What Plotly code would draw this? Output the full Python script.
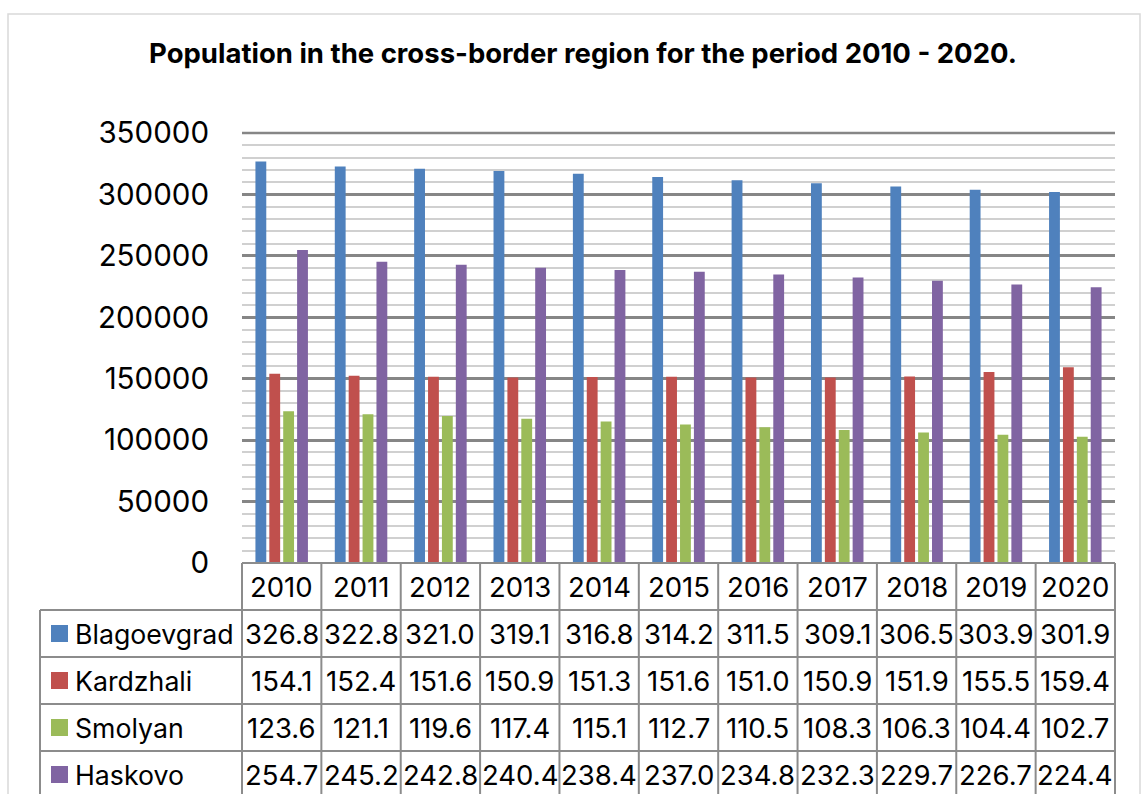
import plotly.graph_objects as go

W, H = 1147, 794

years = ["2010", "2011", "2012", "2013", "2014", "2015", "2016", "2017", "2018", "2019", "2020"]
series_names = ["Blagoevgrad", "Kardzhali", "Smolyan", "Haskovo"]
blagoevgrad = [326.8, 322.8, 321.0, 319.1, 316.8, 314.2, 311.5, 309.1, 306.5, 303.9, 301.9]
kardzhali = [154.1, 152.4, 151.6, 150.9, 151.3, 151.6, 151.0, 150.9, 151.9, 155.5, 159.4]
smolyan = [123.6, 121.1, 119.6, 117.4, 115.1, 112.7, 110.5, 108.3, 106.3, 104.4, 102.7]
haskovo = [254.7, 245.2, 242.8, 240.4, 238.4, 237.0, 234.8, 232.3, 229.7, 226.7, 224.4]
colors = ["#4F81BD", "#C0504D", "#9BBB59", "#8064A2"]
title = "Population in the cross-border region for the period 2010 - 2020."
y_max = 350000

all_series = [blagoevgrad, kardzhali, smolyan, haskovo]

FONT = "Inter"
FS_TICK = 29.5
FS_NUM = 27.5
FS_LAB = 26.7

def px(x):
    return x / W

def py(y):
    return 1 - y / H

# plot area in pixels
PL, PR, PT, PB = 242, 1115, 133, 563
TABLE_LEFT = 40
ROW_H = 47

fig = go.Figure()
for name, vals, c in zip(series_names, all_series, colors):
    fig.add_trace(go.Bar(
        x=years, y=[v * 1000 for v in vals], name=name,
        marker=dict(color=c, line=dict(width=0)),
        showlegend=False,
    ))

shapes = []
annotations = []
grid_col = "#8C8C8C"

# outer chart border
shapes.append(dict(type="rect", xref="paper", yref="paper",
                   x0=px(8), x1=px(1140), y0=py(805), y1=py(14),
                   line=dict(color="#D9D9D9", width=1.5)))

# top major gridline (at the top edge of the plot area, not clipped)
shapes.append(dict(type="line", xref="paper", yref="paper",
                   x0=px(PL), x1=px(PR), y0=py(PT), y1=py(PT),
                   line=dict(color="#868686", width=2.5)))

# table horizontal lines
n_rows = len(series_names)
shapes.append(dict(type="line", xref="paper", yref="paper",
                   x0=px(PL), x1=px(PR), y0=py(PB), y1=py(PB),
                   line=dict(color=grid_col, width=2)))
for r in range(n_rows):
    y = PB + ROW_H * (r + 1)
    shapes.append(dict(type="line", xref="paper", yref="paper",
                       x0=px(TABLE_LEFT), x1=px(PR), y0=py(y), y1=py(y),
                       line=dict(color=grid_col, width=2)))
# vertical lines
ncol = len(years)
colw = (PR - PL) / ncol
for j in range(ncol + 1):
    x = PL + j * colw
    shapes.append(dict(type="line", xref="paper", yref="paper",
                       x0=px(x), x1=px(x), y0=py(PB), y1=py(H + 5),
                       line=dict(color=grid_col, width=2)))
shapes.append(dict(type="line", xref="paper", yref="paper",
                   x0=px(TABLE_LEFT), x1=px(TABLE_LEFT), y0=py(PB + ROW_H), y1=py(H + 5),
                   line=dict(color=grid_col, width=2)))

# header row
for j, yr in enumerate(years):
    annotations.append(dict(x=j, xref="x", y=py(PB + ROW_H / 2), yref="paper",
                            text=yr, showarrow=False, xanchor="center", yanchor="middle",
                            font=dict(family=FONT, size=FS_NUM, color="#000000")))
# body rows
for r, (name, vals, c) in enumerate(zip(series_names, all_series, colors)):
    yc = PB + ROW_H * (r + 1.5)
    shapes.append(dict(type="rect", xref="paper", yref="paper",
                       x0=px(51), x1=px(68), y0=py(yc + 8.5), y1=py(yc - 8.5),
                       fillcolor=c, line=dict(width=0)))
    annotations.append(dict(x=px(73), xref="paper", y=py(yc), yref="paper",
                            text=name, showarrow=False, xanchor="left", yanchor="middle",
                            font=dict(family=FONT, size=FS_LAB, color="#000000")))
    for j, v in enumerate(vals):
        annotations.append(dict(x=j, xref="x", y=py(yc), yref="paper",
                                text=f"{v:.1f}", showarrow=False,
                                xanchor="center", yanchor="middle",
                                font=dict(family=FONT, size=FS_NUM, color="#000000")))

fig.update_layout(
    width=W, height=H,
    margin=dict(l=0, r=0, t=0, b=0, autoexpand=False),
    paper_bgcolor="white", plot_bgcolor="white",
    barmode="group", bargap=0.30, bargroupgap=0.22,
    title=dict(text=f"<b>{title}</b>", x=px(583), xanchor="center",
               y=py(53), yanchor="middle",
               font=dict(family=FONT, size=27.5, color="#000000")),
    xaxis=dict(type="category", domain=[px(PL), px(PR)], range=[-0.5, len(years) - 0.5],
               autorange=False, showticklabels=False,
               showgrid=False, zeroline=False, showline=False, ticks="",
               automargin=False),
    yaxis=dict(domain=[py(PB), py(PT)], range=[0, y_max], dtick=50000,
               showgrid=True, gridcolor="#868686", gridwidth=2.5,
               zeroline=False, showline=False, ticks="", automargin=False,
               tickformat="d", ticklabelstandoff=32,
               tickfont=dict(family=FONT, size=FS_TICK, color="#000000"),
               minor=dict(dtick=10000, showgrid=True, gridcolor="#D0D0D0", gridwidth=1.5)),
    shapes=shapes, annotations=annotations,
)

fig.write_html("out.html")
